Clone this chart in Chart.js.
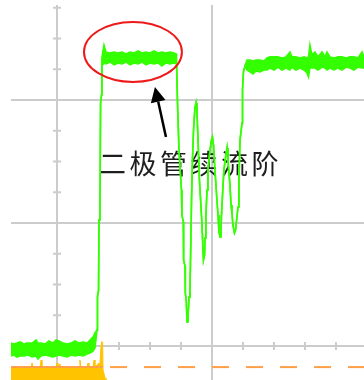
<!DOCTYPE html>
<html>
<head>
<meta charset="utf-8">
<script src="https://cdn.jsdelivr.net/npm/chart.js@4/dist/chart.umd.min.js"></script>
<style>
  html, body { margin: 0; padding: 0; background: #ffffff; }
  canvas { display: block; }
</style>
</head>
<body>
<canvas id="scope" width="364" height="380"></canvas>
<script>
// Time axis and levels are in screen divisions (1 major division = 1.0).
const timeRange = [-0.297, 1.981];
const levelRange = [-0.276, 2.772];

// Green channel: noise envelope (high/low); where both are equal the trace is a thin line.
const greenTime = [
  -0.297, -0.277, -0.258, -0.239, -0.213, -0.187, -0.161, -0.135, -0.123, -0.103,
  -0.077, -0.052, -0.026, -0.006, 0.013, 0.039, 0.065, 0.090, 0.116, 0.142,
  0.168, 0.194, 0.213, 0.232, 0.245,
  0.258, 0.261, 0.268, 0.271, 0.277, 0.281, 0.287, 0.290,
  0.294, 0.303, 0.316, 0.342, 0.368, 0.394, 0.419, 0.445, 0.471, 0.497,
  0.523, 0.548, 0.574, 0.600, 0.626, 0.652, 0.677, 0.703, 0.729, 0.755, 0.771,
  0.777, 0.787, 0.803, 0.806, 0.815, 0.817, 0.826, 0.828, 0.834, 0.839,
  0.845, 0.852, 0.858, 0.863, 0.868, 0.874, 0.881, 0.890, 0.897, 0.903,
  0.910, 0.919, 0.929, 0.935, 0.942, 0.945, 0.952, 0.955, 0.961, 0.968,
  0.974, 0.987, 0.997, 1.003, 1.010, 1.019, 1.032, 1.039, 1.045, 1.052,
  1.058, 1.061, 1.068, 1.077, 1.090, 1.097, 1.103, 1.116, 1.123, 1.129,
  1.135, 1.145, 1.152, 1.161, 1.168, 1.174, 1.181, 1.194, 1.197, 1.203, 1.213,
  1.226, 1.245, 1.265, 1.284, 1.310, 1.335, 1.355, 1.374, 1.400, 1.426,
  1.452, 1.477, 1.503, 1.516, 1.542, 1.568, 1.594, 1.613, 1.623, 1.632,
  1.645, 1.665, 1.684, 1.710, 1.729, 1.742, 1.761, 1.787, 1.813, 1.839,
  1.865, 1.890, 1.916, 1.942, 1.968, 1.981
];
const greenHigh = [
  0.024, 0.016, 0.024, 0.033, 0.016, 0.024, 0.024, 0.049, 0.024, 0.024,
  0.016, 0.041, 0.024, 0.049, 0.041, 0.024, 0.016, 0.024, 0.041, 0.024,
  0.033, 0.024, 0.049, 0.073, 0.106,
  0.130, 0.398, 0.455, 1.024, 1.065, 1.976, 2.041, 2.309,
  2.382, 2.447, 2.390, 2.382, 2.390, 2.382, 2.390, 2.374, 2.390, 2.382,
  2.398, 2.382, 2.390, 2.382, 2.398, 2.382, 2.390, 2.382, 2.390, 2.382, 2.374,
  2.000, 1.593, 1.268, 1.065, 1.008, 0.699, 0.650, 0.431, 0.374, 0.195,
  0.228, 0.398, 0.455, 0.805, 1.187, 1.512, 1.756, 1.935, 1.976, 1.902,
  1.675, 1.350, 1.130, 1.000, 0.780, 0.699, 0.740, 0.878, 1.065, 1.268,
  1.431, 1.593, 1.675, 1.699, 1.634, 1.431, 1.187, 1.065, 0.927, 0.886,
  0.943, 1.049, 1.228, 1.431, 1.553, 1.610, 1.512, 1.309, 1.146, 1.081,
  0.984, 0.919, 0.943, 1.049, 1.130, 1.350, 1.675, 1.813, 2.081, 2.228, 2.276,
  2.325, 2.325, 2.317, 2.325, 2.325, 2.317, 2.341, 2.350, 2.350, 2.350,
  2.341, 2.350, 2.390, 2.350, 2.350, 2.341, 2.350, 2.341, 2.350, 2.447,
  2.366, 2.390, 2.350, 2.390, 2.350, 2.390, 2.350, 2.341, 2.350, 2.350,
  2.341, 2.350, 2.350, 2.341, 2.390, 2.350
];
const greenLow = [
  -0.081, -0.073, -0.089, -0.081, -0.081, -0.073, -0.089, -0.081, -0.106, -0.081,
  -0.073, -0.081, -0.089, -0.081, -0.073, -0.081, -0.089, -0.073, -0.081, -0.073,
  -0.081, -0.065, -0.057, -0.041, -0.016,
  0.130, 0.398, 0.455, 1.024, 1.065, 1.976, 2.041, 2.309,
  2.285, 2.301, 2.293, 2.309, 2.285, 2.301, 2.293, 2.309, 2.285, 2.301,
  2.293, 2.309, 2.285, 2.301, 2.293, 2.301, 2.276, 2.301, 2.293, 2.301, 2.293,
  2.000, 1.593, 1.268, 1.065, 1.008, 0.699, 0.650, 0.431, 0.374, 0.195,
  0.228, 0.398, 0.455, 0.805, 1.187, 1.512, 1.756, 1.935, 1.976, 1.902,
  1.675, 1.350, 1.130, 1.000, 0.780, 0.699, 0.740, 0.878, 1.065, 1.268,
  1.431, 1.593, 1.675, 1.699, 1.634, 1.431, 1.187, 1.065, 0.927, 0.886,
  0.943, 1.049, 1.228, 1.431, 1.553, 1.610, 1.512, 1.309, 1.146, 1.081,
  0.984, 0.919, 0.943, 1.049, 1.130, 1.350, 1.675, 1.813, 2.081, 2.228, 2.276,
  2.244, 2.228, 2.211, 2.236, 2.228, 2.244, 2.244, 2.260, 2.244, 2.268,
  2.244, 2.260, 2.244, 2.268, 2.244, 2.260, 2.244, 2.220, 2.187, 2.260,
  2.260, 2.260, 2.244, 2.268, 2.260, 2.244, 2.260, 2.244, 2.260, 2.244,
  2.268, 2.260, 2.244, 2.268, 2.260, 2.260
];

// Yellow channel: upper edge of its noise band (it leaves the screen downwards).
const yellowTime = [
  -0.297, -0.168, -0.161, -0.155, -0.110, -0.103, -0.097, -0.006, 0.000, 0.006,
  0.019, 0.026, 0.142, 0.148, 0.155, 0.194, 0.200, 0.206, 0.232, 0.239,
  0.245, 0.258, 0.271, 0.277, 0.284, 0.287, 0.294, 0.297, 0.310, 0.316
];
const yellowLevel = [
  -0.179, -0.179, -0.138, -0.179, -0.179, -0.114, -0.179, -0.179, -0.138, -0.179,
  -0.146, -0.179, -0.179, -0.114, -0.179, -0.179, -0.138, -0.179, -0.171, -0.114,
  -0.171, -0.154, -0.138, -0.146, 0.008, 0.033, 0.033, -0.195, -0.260, -0.439
];

// Reference marker of the yellow channel: solid up to the split, dashed after it.
const markerLevel = -0.171;
const markerSplit = 0.297;

// Annotation placed on the first plateau.
const noteText = '二极管续流阶';
const ringCenter = { x: 0.490, y: 2.390 };
const ringRadius = { x: 0.316, y: 0.244 };
const arrowFrom = { x: 0.703, y: 1.699 };
const arrowTo = { x: 0.632, y: 2.106 };
const textAnchor = { x: 0.271, y: 1.484 };

const GRID = '#cccccc';
const GREEN = '#33ff00';
const YELLOW = '#ffc300';
const ORANGE = '#ffa048';

const toPoints = (xs, ys) => xs.map((x, i) => ({ x, y: ys[i] }));
const isMajor = v => Math.abs(v - Math.round(v)) < 1e-6;
const stepTicks = (lo, hi, step) => {
  const out = [];
  for (let k = Math.ceil(lo / step - 1e-9); k * step <= hi + 1e-9; k++) {
    out.push({ value: Math.round(k * step * 1000) / 1000 });
  }
  return out;
};

// Short marks along the two centre lines, plus the caption under the traces.
const minorMarks = {
  id: 'minorMarks',
  beforeDatasetsDraw(chart) {
    const { ctx, scales: { x, y } } = chart;
    const x0 = x.getPixelForValue(0);
    const y0 = y.getPixelForValue(0);
    ctx.save();
    ctx.strokeStyle = GRID;
    ctx.lineWidth = 2;
    ctx.beginPath();
    x.ticks.forEach(t => {
      if (isMajor(t.value)) return;
      const px = x.getPixelForValue(t.value);
      ctx.moveTo(px, y0 - 4); ctx.lineTo(px, y0 + 4);
    });
    y.ticks.forEach(t => {
      if (isMajor(t.value)) return;
      const py = y.getPixelForValue(t.value);
      ctx.moveTo(x0 - 4, py); ctx.lineTo(x0 + 4, py);
    });
    ctx.stroke();

    const tx = x.getPixelForValue(textAnchor.x);
    const ty = y.getPixelForValue(textAnchor.y);
    ctx.fillStyle = '#1e1e1e';
    ctx.font = '27px "Noto Sans CJK SC", sans-serif';
    ctx.textBaseline = 'middle';
    ctx.textAlign = 'left';
    [...noteText].forEach((ch, i) => ctx.fillText(ch, tx + i * 30.5, ty));
    ctx.restore();
  }
};

// Red ring and arrow pointing at the plateau.
const callout = {
  id: 'callout',
  afterDatasetsDraw(chart) {
    const { ctx, scales: { x, y } } = chart;
    const cx = x.getPixelForValue(ringCenter.x);
    const cy = y.getPixelForValue(ringCenter.y);
    const rx = Math.abs(x.getPixelForValue(ringCenter.x + ringRadius.x) - cx);
    const ry = Math.abs(y.getPixelForValue(ringCenter.y + ringRadius.y) - cy);
    ctx.save();
    ctx.strokeStyle = '#ee1a1a';
    ctx.lineWidth = 2;
    ctx.beginPath();
    ctx.ellipse(cx, cy, rx, ry, 0, 0, Math.PI * 2);
    ctx.stroke();

    const ax = x.getPixelForValue(arrowFrom.x), ay = y.getPixelForValue(arrowFrom.y);
    const bx = x.getPixelForValue(arrowTo.x), by = y.getPixelForValue(arrowTo.y);
    const ang = Math.atan2(by - ay, bx - ax);
    const headLen = 15, headHalf = 7.5;
    const baseX = bx - Math.cos(ang) * headLen, baseY = by - Math.sin(ang) * headLen;
    ctx.strokeStyle = '#000000';
    ctx.fillStyle = '#000000';
    ctx.lineWidth = 2.5;
    ctx.beginPath();
    ctx.moveTo(ax, ay);
    ctx.lineTo(baseX, baseY);
    ctx.stroke();
    ctx.beginPath();
    ctx.moveTo(bx, by);
    ctx.lineTo(baseX + Math.sin(ang) * headHalf, baseY - Math.cos(ang) * headHalf);
    ctx.lineTo(baseX - Math.sin(ang) * headHalf, baseY + Math.cos(ang) * headHalf);
    ctx.closePath();
    ctx.fill();
    ctx.restore();
  }
};

new Chart(document.getElementById('scope'), {
  type: 'line',
  data: {
    datasets: [
      {
        data: toPoints(greenTime, greenHigh),
        borderColor: GREEN, borderWidth: 1.6, fill: false, order: 1
      },
      {
        data: toPoints(greenTime, greenLow),
        borderColor: GREEN, borderWidth: 1.6, backgroundColor: GREEN, fill: '-1', order: 1
      },
      {
        data: [{ x: timeRange[0], y: markerLevel }, { x: markerSplit, y: markerLevel }],
        borderColor: ORANGE, borderWidth: 2, fill: false, order: 2
      },
      {
        data: toPoints(yellowTime, yellowLevel),
        borderColor: YELLOW, borderWidth: 1, backgroundColor: YELLOW,
        fill: { value: -0.6 }, order: 3
      },
      {
        data: [{ x: markerSplit, y: markerLevel }, { x: timeRange[1], y: markerLevel }],
        borderColor: ORANGE, borderWidth: 2, borderDash: [17, 17], borderDashOffset: 27,
        fill: false, order: 4
      }
    ]
  },
  options: {
    responsive: false,
    animation: false,
    devicePixelRatio: 1,
    layout: { padding: { left: 11, top: 5, right: 0, bottom: 0 }, autoPadding: false },
    plugins: { legend: { display: false }, tooltip: { enabled: false } },
    elements: { point: { radius: 0, hoverRadius: 0 }, line: { tension: 0 } },
    scales: {
      x: {
        type: 'linear',
        min: timeRange[0], max: timeRange[1],
        afterBuildTicks: s => { s.ticks = stepTicks(timeRange[0], timeRange[1], 0.2); },
        ticks: { display: false },
        border: { display: false },
        grid: {
          drawTicks: false, lineWidth: 2,
          color: c => (c.tick && isMajor(c.tick.value)) ? GRID : 'rgba(0,0,0,0)'
        }
      },
      y: {
        type: 'linear',
        min: levelRange[0], max: levelRange[1],
        afterBuildTicks: s => { s.ticks = stepTicks(levelRange[0], levelRange[1], 0.25); },
        ticks: { display: false },
        border: { display: false },
        grid: {
          drawTicks: false, lineWidth: 2,
          color: c => (c.tick && isMajor(c.tick.value)) ? GRID : 'rgba(0,0,0,0)'
        }
      }
    }
  },
  plugins: [minorMarks, callout]
});
</script>
</body>
</html>
